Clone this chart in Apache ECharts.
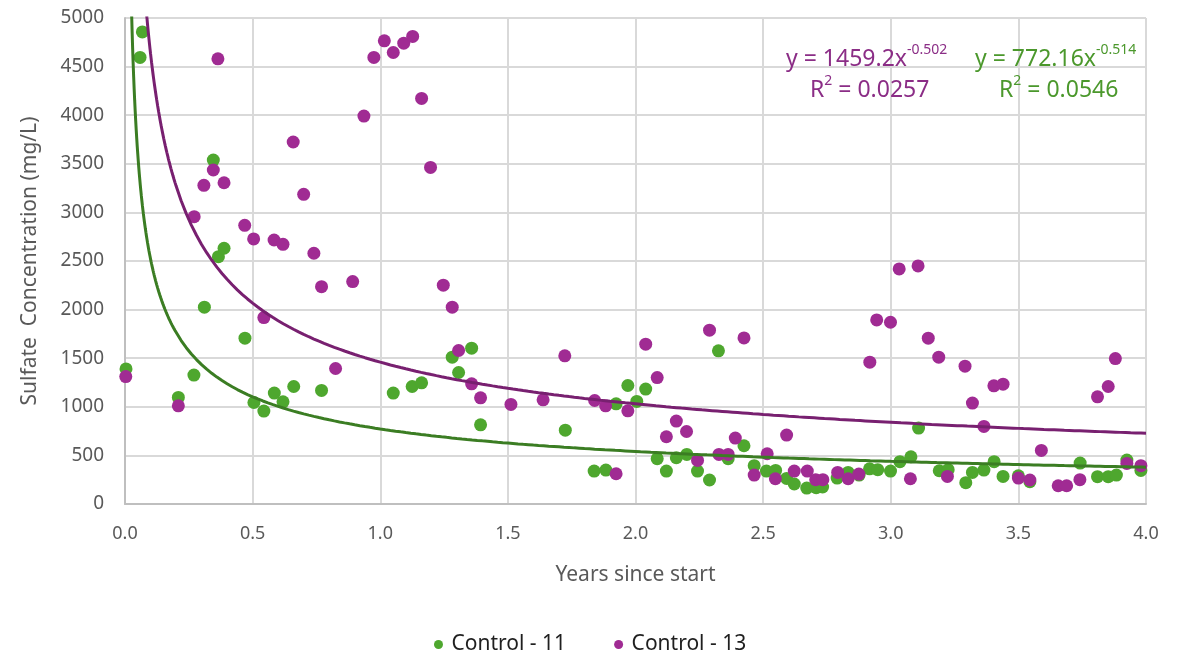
<!DOCTYPE html>
<html>
<head>
<meta charset="utf-8">
<script src="https://cdn.jsdelivr.net/npm/echarts@6/dist/echarts.min.js"></script>
<style>
  html, body { margin: 0; padding: 0; background: #fff; }
  #chart { width: 1191px; height: 660px; }
</style>
</head>
<body>
<div id="chart"></div>
<script>
// Control - 11 (green)
var years11 = [0.004, 0.059, 0.068, 0.209, 0.27, 0.311, 0.346, 0.366, 0.388, 0.47, 0.505, 0.544, 0.585, 0.619, 0.661, 0.77,
  1.051, 1.125, 1.162, 1.282, 1.307, 1.358, 1.393, 1.725, 1.838, 1.884, 1.924, 1.97, 2.005, 2.04, 2.085, 2.121, 2.16, 2.201,
  2.243, 2.29, 2.325, 2.363, 2.425, 2.465, 2.513, 2.549, 2.592, 2.622, 2.671, 2.708, 2.733, 2.79, 2.833, 2.876, 2.917, 2.949,
  2.999, 3.036, 3.079, 3.109, 3.19, 3.225, 3.294, 3.32, 3.365, 3.405, 3.44, 3.5, 3.545, 3.742, 3.81, 3.852, 3.884, 3.925, 3.98]
var sulfate11 = [1390, 4594, 4857, 1096, 1326, 2025, 3538, 2545, 2631, 1706, 1044, 956, 1141, 1051, 1209, 1168,
  1141, 1209, 1247, 1511, 1353, 1603, 815, 760, 339, 349, 1031, 1219, 1055, 1182, 466, 339, 476, 510,
  339, 247, 1576, 466, 599, 394, 339, 345, 263, 206, 164, 168, 175, 267, 325, 298, 362, 353,
  339, 435, 486, 781, 342, 353, 219, 325, 349, 435, 284, 290, 230, 421, 281, 281, 298, 452, 345]

// Control - 13 (purple)
var years13 = [0.003, 0.209, 0.271, 0.309, 0.346, 0.364, 0.388, 0.469, 0.504, 0.544, 0.584, 0.619, 0.659, 0.70, 0.74, 0.77,
  0.825, 0.892, 0.936, 0.975, 1.016, 1.051, 1.092, 1.127, 1.162, 1.197, 1.247, 1.282, 1.307, 1.358, 1.393, 1.512, 1.638,
  1.723, 1.84, 1.883, 1.924, 1.97, 2.04, 2.085, 2.121, 2.16, 2.2, 2.243, 2.29, 2.327, 2.363, 2.391, 2.425, 2.465, 2.516,
  2.548, 2.592, 2.622, 2.673, 2.706, 2.734, 2.792, 2.833, 2.875, 2.918, 2.945, 2.999, 3.033, 3.077, 3.107, 3.147, 3.188,
  3.222, 3.291, 3.32, 3.365, 3.404, 3.44, 3.5, 3.545, 3.59, 3.656, 3.689, 3.741, 3.81, 3.852, 3.88, 3.925, 3.98]
var sulfate13 = [1311, 1010, 2956, 3279, 3436, 4580, 3305, 2867, 2727, 1918, 2716, 2672, 3724, 3186, 2580, 2236,
  1394, 2288, 3991, 4594, 4765, 4645, 4741, 4810, 4173, 3463, 2251, 2025, 1579, 1236, 1092, 1024, 1072,
  1524, 1065, 1010, 311, 959, 1644, 1301, 692, 853, 746, 448, 1788, 510, 510, 678, 1709, 298, 517,
  260, 709, 339, 339, 250, 250, 325, 260, 308, 1459, 1894, 1870, 2418, 260, 2449, 1706, 1511,
  284, 1418, 1038, 798, 1216, 1233, 267, 247, 551, 188, 188, 250, 1103, 1209, 1496, 417, 394]

// trendline equations as printed on the chart (y = a * x^b)
var trend13 = { a: '1459.2', b: '-0.502', r2: '0.0257' }
var trend11 = { a: '772.16', b: '-0.514', r2: '0.0546' }

var green = '#4ea72e'
var purple = '#a02b93'
var greenLine = '#3b7d23'
var purpleLine = '#782070'

function zip (xs, ys) {
  return xs.map(function (x, i) { return [x, ys[i]] })
}

// sample the power curve for drawing
function powerCurve (t) {
  var a = parseFloat(t.a), b = parseFloat(t.b)
  var pts = []
  var x = 0.01
  while (x <= 4.0001) {
    pts.push([x, a * Math.pow(x, b)])
    x += x < 0.2 ? 0.002 : 0.02
  }
  return pts
}

function eqText (t) {
  return '{m|y = ' + t.a + 'x}{s|' + t.b + '}\n{g|}{m|R}{s|2}{m| = ' + t.r2 + '}'
}
function eqRich (c) {
  return {
    m: { fontSize: 23, fill: c, fontFamily: font, verticalAlign: 'bottom', lineHeight: 31 },
    s: { fontSize: 14, fill: c, fontFamily: font, verticalAlign: 'bottom', padding: [0, 0, 14, 0], lineHeight: 31 },
    g: { width: 24 }
  }
}

var font = '"Noto Sans", sans-serif'
var myChart = echarts.init(document.getElementById('chart'))

myChart.setOption({
  animation: false,
  textStyle: { fontFamily: font },
  grid: { left: 125, right: 45, top: 18, bottom: 156 },
  legend: {
    bottom: 0,
    left: 429,
    itemGap: 48,
    itemWidth: 16,
    itemHeight: 9,
    data: [
      { name: 'Control - 11', icon: 'circle' },
      { name: 'Control - 13', icon: 'circle' }
    ],
    textStyle: { fontSize: 21, color: '#1f1f1f', fontFamily: font }
  },
  xAxis: {
    type: 'value',
    min: 0,
    max: 4,
    interval: 0.5,
    name: 'Years since start',
    nameLocation: 'middle',
    nameGap: 61,
    nameTextStyle: { fontSize: 21, color: '#595959' },
    axisLine: { show: true, lineStyle: { color: '#bfbfbf', width: 2 } },
    axisTick: { show: false },
    axisLabel: {
      fontSize: 18, color: '#595959', margin: 21,
      formatter: function (v) { return v.toFixed(1) }
    },
    splitLine: { show: true, lineStyle: { color: '#d9d9d9', width: 2 } }
  },
  yAxis: {
    type: 'value',
    min: 0,
    max: 5000,
    interval: 500,
    name: 'Sulfate  Concentration (mg/L)',
    nameLocation: 'middle',
    nameGap: 84,
    nameTextStyle: { fontSize: 21, color: '#595959' },
    axisLine: { show: true, lineStyle: { color: '#bfbfbf', width: 2 } },
    axisTick: { show: false },
    axisLabel: {
      fontSize: 19, color: '#595959', margin: 21,
      formatter: function (v) { return String(v) }
    },
    splitLine: { show: true, lineStyle: { color: '#d9d9d9', width: 2 } }
  },
  series: [
    {
      name: 'Control - 11',
      type: 'scatter',
      data: zip(years11, sulfate11),
      symbolSize: 13,
      itemStyle: { color: green, opacity: 1 },
      z: 3
    },
    {
      name: 'Control - 13',
      type: 'scatter',
      data: zip(years13, sulfate13),
      symbolSize: 13,
      itemStyle: { color: purple, opacity: 1 },
      z: 4
    },
    {
      name: 'trend13',
      type: 'line',
      data: powerCurve(trend13),
      showSymbol: false,
      clip: true,
      lineStyle: { color: purpleLine, width: 3 },
      z: 5,
      silent: true
    },
    {
      name: 'trend11',
      type: 'line',
      data: powerCurve(trend11),
      showSymbol: false,
      clip: true,
      lineStyle: { color: greenLine, width: 3 },
      z: 5,
      silent: true
    }
  ],
  graphic: [
    {
      type: 'text', left: 786, top: 43, z: 10,
      style: { text: eqText(trend13), fill: '#8b2d86', rich: eqRich('#8b2d86') }
    },
    {
      type: 'text', left: 975, top: 43, z: 10,
      style: { text: eqText(trend11), fill: '#4b982c', rich: eqRich('#4b982c') }
    }
  ]
})
</script>
</body>
</html>
